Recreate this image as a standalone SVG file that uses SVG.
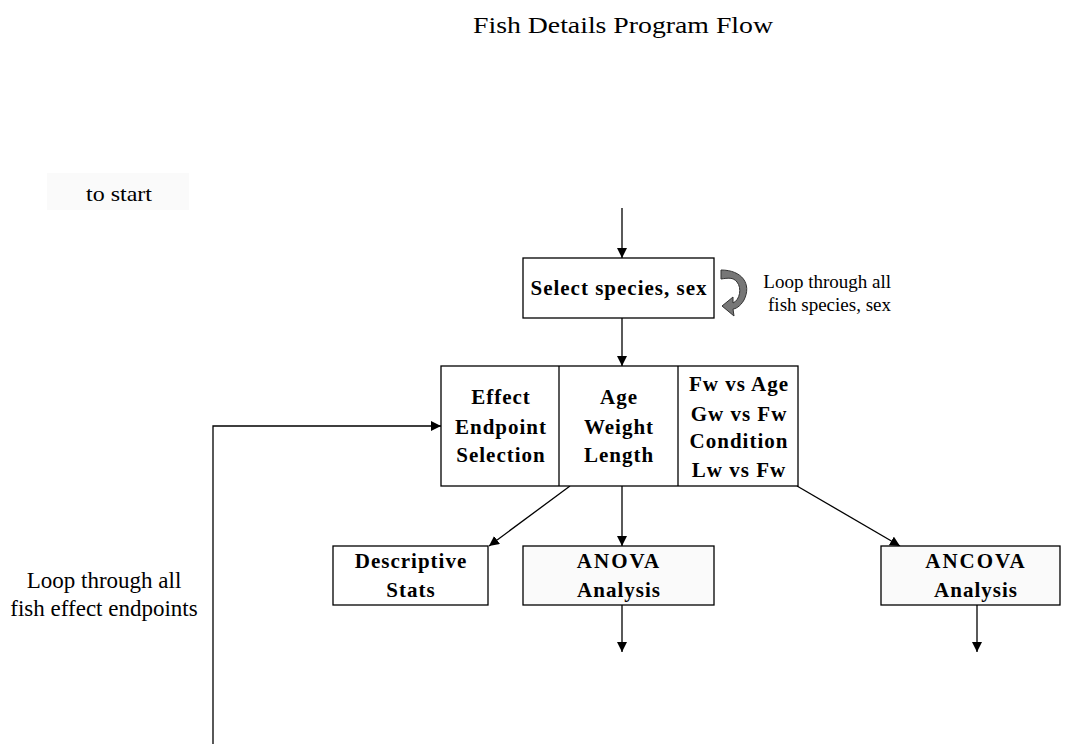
<svg xmlns="http://www.w3.org/2000/svg" width="1071" height="744" viewBox="0 0 1071 744">
<style>
.b{font-family:"Liberation Serif","DejaVu Serif",serif;font-weight:bold;font-size:21px;letter-spacing:1px;fill:#000;text-anchor:middle}
.n{font-family:"Liberation Serif","DejaVu Serif",serif;font-size:19px;fill:#000}
.box{fill:#fff;stroke:#000;stroke-width:1.3}
.ln{stroke:#000;stroke-width:1.3;fill:none}
</style>
<defs>
<marker id="ah" viewBox="0 0 10 10" refX="10" refY="5" markerWidth="10" markerHeight="10" markerUnits="userSpaceOnUse" orient="auto">
<path d="M0,0 L10,5 L0,10 z" fill="#000"/>
</marker>
</defs>
<rect width="1071" height="744" fill="#fff"/>
<text class="n" x="473" y="33" style="font-size:24px" textLength="300" lengthAdjust="spacingAndGlyphs">Fish Details Program Flow</text>
<g id="start">
<rect x="47" y="173" width="142" height="37" fill="#fafafa"/>
<text class="n" x="86" y="201" style="font-size:21px" textLength="66" lengthAdjust="spacingAndGlyphs">to start</text>
</g>
<g id="connectors">
<line class="ln" x1="622" y1="208" x2="622" y2="258" marker-end="url(#ah)"/>
<line class="ln" x1="622" y1="318" x2="622" y2="366" marker-end="url(#ah)"/>
<line class="ln" x1="570" y1="486" x2="489" y2="546" marker-end="url(#ah)"/>
<line class="ln" x1="622" y1="486" x2="622" y2="546" marker-end="url(#ah)"/>
<line class="ln" x1="797" y1="486" x2="900" y2="546" marker-end="url(#ah)"/>
<line class="ln" x1="622" y1="605" x2="622" y2="652" marker-end="url(#ah)"/>
<line class="ln" x1="977" y1="605" x2="977" y2="652" marker-end="url(#ah)"/>
<polyline class="ln" points="213,746 213,426 441,426" marker-end="url(#ah)"/>
</g>
<g id="select">
<rect class="box" x="523" y="258" width="191" height="60"/>
<text class="b" x="619" y="295">Select species, sex</text>
</g>
<g id="loop-icon">
<path d="M721,270 C742,270 752,284 744,300 C740,307 735,309 733,309 L734,316 L722,306 L733,297 L733,303 C740,300 742,288 737,282 C733,277 728,278 721,279 z" fill="#777" stroke="#333" stroke-width="1"/>
</g>
<g id="loop-species">
<text class="n" x="891" y="288" text-anchor="end">Loop through all</text>
<text class="n" x="891" y="311" text-anchor="end">fish species, sex</text>
</g>
<g id="endpoints">
<rect class="box" x="441" y="366" width="357" height="120"/>
<line class="ln" x1="559" y1="366" x2="559" y2="486"/>
<line class="ln" x1="678" y1="366" x2="678" y2="486"/>
<text class="b" x="501" y="404">Effect</text>
<text class="b" x="501" y="434">Endpoint</text>
<text class="b" x="501" y="462">Selection</text>
<text class="b" x="619" y="404">Age</text>
<text class="b" x="619" y="434">Weight</text>
<text class="b" x="619" y="462">Length</text>
<text class="b" x="739" y="391">Fw vs Age</text>
<text class="b" x="739" y="421">Gw vs Fw</text>
<text class="b" x="739" y="448">Condition</text>
<text class="b" x="739" y="477">Lw vs Fw</text>
</g>
<g id="descriptive">
<rect class="box" x="333" y="546" width="155" height="59"/>
<text class="b" x="411" y="568">Descriptive</text>
<text class="b" x="411" y="597">Stats</text>
</g>
<g id="anova">
<rect class="box" x="523" y="546" width="191" height="59" style="fill:#fafafa"/>
<text class="b" x="619" y="568" style="letter-spacing:2px">ANOVA</text>
<text class="b" x="619" y="597">Analysis</text>
</g>
<g id="ancova">
<rect class="box" x="881" y="546" width="179" height="59" style="fill:#fafafa"/>
<text class="b" x="976" y="568" style="letter-spacing:2px">ANCOVA</text>
<text class="b" x="976" y="597">Analysis</text>
</g>
<g id="loop-endpoints">
<text class="n" x="104" y="588" text-anchor="middle" style="font-size:23px">Loop through all</text>
<text class="n" x="104" y="616" text-anchor="middle" style="font-size:23px">fish effect endpoints</text>
</g>
</svg>
